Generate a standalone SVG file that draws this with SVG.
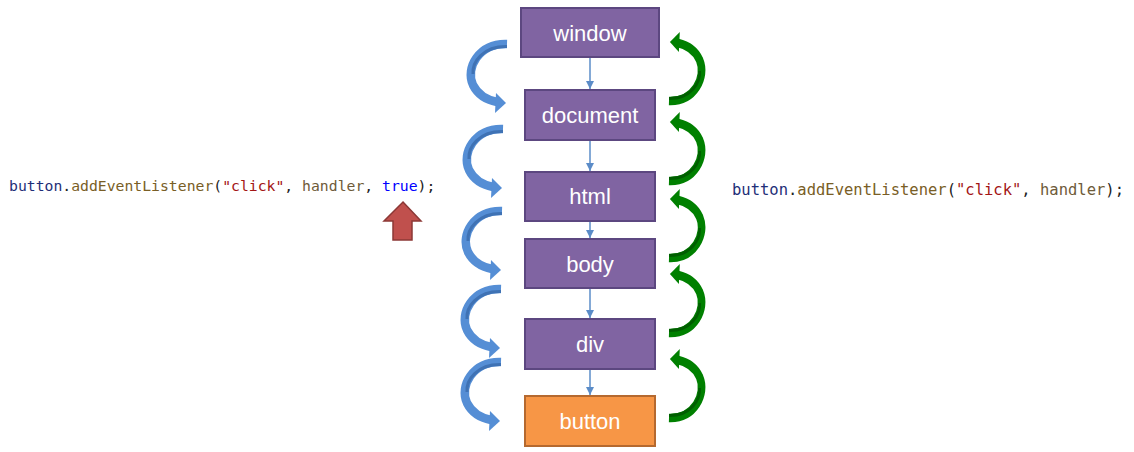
<svg xmlns="http://www.w3.org/2000/svg" width="1134" height="452" viewBox="0 0 1134 452">
<style>
.box{fill:#8064A2;stroke:#5C4780;stroke-width:2}
.btn{fill:#F79646;stroke:#B5692F;stroke-width:2}
.lbl{font-family:"Liberation Sans",Arial,sans-serif;font-size:22px;fill:#FFFFFF;text-anchor:middle}
.code{font-family:"DejaVu Sans Mono","Liberation Mono",monospace;fill:#222222}
.v{fill:#1F2F78}.f{fill:#795E26}.s{fill:#A31515}.p{fill:#222222}.h{fill:#6E5B3A}.k{fill:#0000FF}
.conn{stroke:#5B8CC8;stroke-width:1.5;fill:none}
</style>
<defs>
<marker id="ah" viewBox="0 0 10 10" refX="10" refY="5" markerWidth="8" markerHeight="8" orient="auto" markerUnits="userSpaceOnUse">
<path d="M0,0 L10,5 L0,10 z" fill="#5B8CC8"/>
</marker>
<g id="blueArrow">
<path d="M 0 0 C -28 -1, -42 24, -34 41 C -29 51, -20 56, -10 58" fill="none" stroke="#558ED5" stroke-width="8.5"/>
<path d="M 0 2.5 C -24 2, -35 18, -34 30" fill="none" stroke="#3F72B4" stroke-width="3"/>
<polygon points="-11,49 -1,59 -12,69" fill="#558ED5"/>
</g>
<g id="greenArrow">
<path d="M 0 0 C -28 -1, -42 24, -34 41 C -29 51, -20 56, -10 58" fill="none" stroke="#008000" stroke-width="8.5"/>
<path d="M 0 2.5 C -24 2, -35 18, -34 30" fill="none" stroke="#005E00" stroke-width="3"/>
<polygon points="-11,49 -1,59 -12,69" fill="#008000"/>
</g>
</defs>

<g id="connectors">
<line class="conn" x1="590" y1="58" x2="590" y2="89" marker-end="url(#ah)"/>
<line class="conn" x1="590" y1="141" x2="590" y2="171" marker-end="url(#ah)"/>
<line class="conn" x1="590" y1="222" x2="590" y2="238" marker-end="url(#ah)"/>
<line class="conn" x1="590" y1="289" x2="590" y2="318" marker-end="url(#ah)"/>
<line class="conn" x1="590" y1="370" x2="590" y2="395" marker-end="url(#ah)"/>
</g>

<g id="capture-arrows">
<use href="#blueArrow" transform="translate(507,44)"/>
<use href="#blueArrow" transform="translate(503,129)"/>
<use href="#blueArrow" transform="translate(502,211)"/>
<use href="#blueArrow" transform="translate(501,289)"/>
<use href="#blueArrow" transform="translate(501,362)"/>
</g>
<g id="bubble-arrows">
<use href="#greenArrow" transform="translate(669,101) scale(-0.9,-1)"/>
<use href="#greenArrow" transform="translate(669,181) scale(-0.9,-1)"/>
<use href="#greenArrow" transform="translate(669,258) scale(-0.9,-1)"/>
<use href="#greenArrow" transform="translate(669,333) scale(-0.9,-1)"/>
<use href="#greenArrow" transform="translate(669,418) scale(-0.9,-1)"/>
</g>

<g id="node-window"><rect class="box" x="521" y="8" width="138" height="49"/><text class="lbl" x="590" y="41">window</text></g>
<g id="node-document"><rect class="box" x="525" y="90" width="130" height="50"/><text class="lbl" x="590" y="123">document</text></g>
<g id="node-html"><rect class="box" x="525" y="172" width="130" height="49"/><text class="lbl" x="590" y="204">html</text></g>
<g id="node-body"><rect class="box" x="525" y="239" width="130" height="49"/><text class="lbl" x="590" y="272">body</text></g>
<g id="node-div"><rect class="box" x="525" y="319" width="130" height="50"/><text class="lbl" x="590" y="352">div</text></g>
<g id="node-button"><rect class="btn" x="525" y="396" width="130" height="50"/><text class="lbl" x="590" y="429">button</text></g>

<g id="code-capture">
<text class="code" x="9" y="191" font-size="14.75"><tspan class="v">button</tspan><tspan class="p">.</tspan><tspan class="f">addEventListener</tspan><tspan class="p">(</tspan><tspan class="s">"click"</tspan><tspan class="p">, </tspan><tspan class="h">handler</tspan><tspan class="p">, </tspan><tspan class="k">true</tspan><tspan class="p">);</tspan></text>
<polygon id="up-arrow" points="403,202 421,221 412,221 412,240 393,240 393,221 384,221" fill="#C0504D" stroke="#8C3836" stroke-width="1.5"/>
</g>
<g id="code-bubble">
<text class="code" x="732" y="195" font-size="15.5"><tspan class="v">button</tspan><tspan class="p">.</tspan><tspan class="f">addEventListener</tspan><tspan class="p">(</tspan><tspan class="s">"click"</tspan><tspan class="p">, </tspan><tspan class="h">handler</tspan><tspan class="p">);</tspan></text>
</g>
</svg>
